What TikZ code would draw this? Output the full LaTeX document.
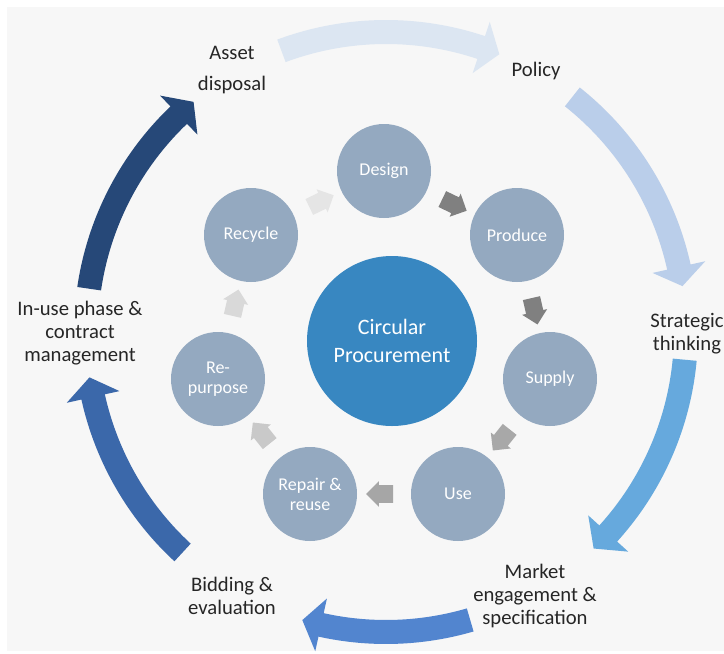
\documentclass[tikz,border=0pt]{standalone}
\usepackage{fontspec}
\setmainfont{Carlito}
\usepackage{tikz}
\usetikzlibrary{shapes.arrows,calc}

\definecolor{panelgray}{HTML}{F7F7F7}
\definecolor{stepblue}{HTML}{94A9C0}
\definecolor{hubblue}{HTML}{3887C1}
\definecolor{arcA}{HTML}{DCE6F2}
\definecolor{arcB}{HTML}{BACEEA}
\definecolor{arcC}{HTML}{66A9DD}
\definecolor{arcD}{HTML}{5285CF}
\definecolor{arcE}{HTML}{3B68AA}
\definecolor{arcF}{HTML}{264878}

\tikzset{
  stage/.style={circle, fill=stepblue, minimum size=70.5pt, inner sep=0pt, align=center, text=white, font=\fontsize{13.5pt}{15pt}\selectfont},
  hub/.style={circle, fill=hubblue, minimum size=127.5pt, inner sep=0pt, align=center, text=white, font=\fontsize{16.5pt}{21pt}\selectfont},
  phase/.style={inner sep=0pt, align=center, text=black!85, font=\fontsize{15.5pt}{17.25pt}\selectfont},
  cyclearrow/.style={single arrow, fill=#1, draw=none, inner sep=6.4pt, minimum height=20.25pt, single arrow head extend=3pt, single arrow head indent=0pt},
  bigarc/.style={fill=#1, draw=none}
}

\begin{document}
\begin{tikzpicture}[x=0.75pt,y=0.75pt,yscale=-1,xscale=1]
    \useasboundingbox (0,0) rectangle (724,653);

    %Shape: Rectangle [background panel]
    \fill[panelgray] (7,7) rectangle (724,651);

    \begin{scope}[shift={(386,332)}]
    %Shape: Curved arrow [asset -> policy]
    \fill[bigarc=arcA] (-110.4:312) arc[start angle=-110.4, end angle=-71.5, radius=312] -- (-71.5:327) -- (-67.8:300) -- (-71.5:273) -- (-71.5:288) arc[start angle=-71.5, end angle=-110.4, radius=288] -- cycle;
    %Shape: Curved arrow [policy -> strategic]
    \fill[bigarc=arcB] (-51.6:312) arc[start angle=-51.6, end angle=-12.5, radius=312] -- (-12.5:327) -- (-8.8:300) -- (-12.5:273) -- (-12.5:288) arc[start angle=-12.5, end angle=-51.6, radius=288] -- cycle;
    %Shape: Curved arrow [strategic -> market]
    \fill[bigarc=arcC] (5.3:312) arc[start angle=5.3, end angle=42.2, radius=312] -- (42.2:327) -- (46.2:300) -- (42.2:273) -- (42.2:288) arc[start angle=42.2, end angle=5.3, radius=288] -- cycle;
    %Shape: Curved arrow [market -> bidding]
    \fill[bigarc=arcD] (73.7:312) arc[start angle=73.7, end angle=102.5, radius=312] -- (102.5:327) -- (106.2:300) -- (102.5:273) -- (102.5:288) arc[start angle=102.5, end angle=73.7, radius=288] -- cycle;
    %Shape: Curved arrow [bidding -> in-use]
    \fill[bigarc=arcE] (132.7:312) arc[start angle=132.7, end angle=167.5, radius=312] -- (167.5:327) -- (171.3:300) -- (167.5:273) -- (167.5:288) arc[start angle=167.5, end angle=132.7, radius=288] -- cycle;
    %Shape: Curved arrow [in-use -> asset]
    \fill[bigarc=arcF] (-171.7:312) arc[start angle=-171.7, end angle=-133.7, radius=312] -- (-133.7:327) -- (-129.9:300) -- (-133.7:273) -- (-133.7:288) arc[start angle=-133.7, end angle=-171.7, radius=288] -- cycle;
    \end{scope}

    % Text Node
    \node[phase] (asset) at (232,70) {Asset\\[6pt]disposal};
    % Text Node
    \node[phase] (policy) at (536,71) {Policy};
    % Text Node
    \node[phase] (strategic) at (687,334) {Strategic\\thinking};
    % Text Node
    \node[phase] (market) at (535,596) {Market\\engagement \&\\specification};
    % Text Node
    \node[phase] (bidding) at (232,596) {Bidding \&\\evaluation};
    % Text Node
    \node[phase] (inuse) at (80,333) {In-use phase \&\\contract\\management};

    %Shape: Circle [hub]
    \node[hub] (hub) at (392,341) {Circular\\Procurement};

    %Shape: Circles [cycle stages]
    \node[stage] (design) at (384,171) {Design};
    \node[stage] (produce) at (517,235) {Produce};
    \node[stage] (supply) at (550,379) {Supply};
    \node[stage] (use) at (458,494) {Use};
    \node[stage] (repair) at (310,494) {Repair \&\\reuse};
    \node[stage] (repurpose) at (218,379) {Re-\\purpose};
    \node[stage] (recycle) at (251,235) {Recycle};

    %Shape: Block arrows [between stages]
    \node[cyclearrow=black!50, rotate=-25.7] (dp) at ($(design)!0.5!(produce)$) {};
    \node[cyclearrow=black!50, rotate=-77.1] (ps) at ($(produce)!0.5!(supply)$) {};
    \node[cyclearrow=black!34, rotate=-128.6] (su) at ($(supply)!0.5!(use)$) {};
    \node[cyclearrow=black!35, rotate=180] (ur) at ($(use)!0.5!(repair)$) {};
    \node[cyclearrow=black!21, rotate=128.6] (rp) at ($(repair)!0.5!(repurpose)$) {};
    \node[cyclearrow=black!15, rotate=77.1] (pr) at ($(repurpose)!0.5!(recycle)$) {};
    \node[cyclearrow=black!10, rotate=25.7] (rd) at ($(recycle)!0.5!(design)$) {};

\end{tikzpicture}
\end{document}
